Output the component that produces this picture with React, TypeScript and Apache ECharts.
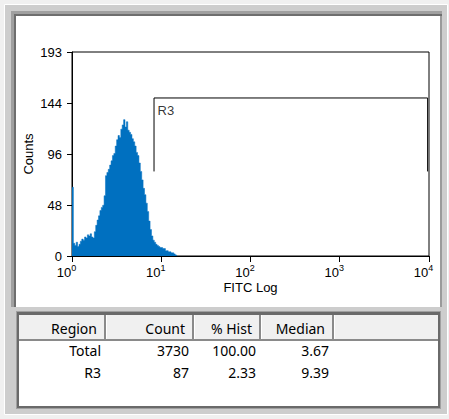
import React, { useEffect, useRef } from "react";
import * as echarts from "echarts";

// Histogram: counts per channel, 64 channels per decade starting at 10^0
const channelsPerDecade = 64;
const histCounts = [
  65, 12, 10, 13, 9, 11, 14, 16, 15, 18, 17, 20, 19, 21, 18, 17, 23, 29, 34, 38,
  43, 46, 48, 57, 76, 79, 82, 86, 90, 95, 97, 104, 110, 114, 112, 120, 124, 129, 122, 127,
  119, 117, 115, 111, 108, 104, 98, 95, 88, 80, 72, 64, 58, 50, 42, 33, 25, 19, 15, 13,
  11, 10, 9, 8, 8, 7, 7, 5, 5, 4, 4, 3, 3, 2, 1,
];

// Axis
const yTickLabels = [0, 48, 96, 144, 193];
const xMin = 1;
const xMax = 10000;

// R3 region marker
const gateName = "R3";
const gateLow = 8.3;
const gateHigh = 9650;
const gateTop = 149.5;
const gateBottom = 80;

// Stats table
const tableHeaders = ["Region", "Count", "% Hist", "Median"];
const regionNames = ["Total", "R3"];
const regionCounts = ["3730", "87"];
const regionPctHist = ["100.00", "2.33"];
const regionMedians = ["3.67", "9.39"];

export default function App() {
  const ref = useRef<HTMLDivElement>(null);

  useEffect(() => {
    document.body.style.margin = "0";
    if (!ref.current) return;
    const chart = echarts.init(ref.current, undefined, { renderer: "svg" });

    const histData: number[][] = histCounts.map((c, i) => [
      Math.pow(10, i / channelsPerDecade),
      c,
    ]);
    histData.push([Math.pow(10, histCounts.length / channelsPerDecade), 0]);

    const chartFont = "Liberation Sans, Arial, sans-serif";
    const tableFont = "14px 'Noto Sans', 'Open Sans', sans-serif";
    const textColor = "#000";

    const colSeps = [105, 193, 260, 333];
    const graphics: any[] = [];
    // window background & frames
    graphics.push(
      { type: "rect", z: -20, shape: { x: 0, y: 0, width: 449, height: 419 }, style: { fill: "#f0f0f0" } },
      { type: "rect", z: -19, shape: { x: 4.5, y: 4.5, width: 443, height: 410 }, style: { fill: "#cdcdcd", stroke: "#ffffff", lineWidth: 1 } },
      // chart panel
      { type: "rect", z: -18, shape: { x: 11, y: 11, width: 431, height: 296 }, style: { fill: "#a0a0a0" } },
      { type: "rect", z: -17, shape: { x: 14, y: 14, width: 428, height: 293 }, style: { fill: "#6e6e6e" } },
      { type: "rect", z: -16, shape: { x: 16, y: 16, width: 424, height: 291 }, style: { fill: "#ffffff" } },
      { type: "rect", z: -17, shape: { x: 440, y: 16, width: 2, height: 291 }, style: { fill: "#9a9a9a" } },
      // table panel
      { type: "rect", z: -18, shape: { x: 16, y: 311, width: 425, height: 98 }, style: { fill: "#a0a0a0" } },
      { type: "rect", z: -17, shape: { x: 17, y: 312, width: 423, height: 96 }, style: { fill: "#6a6a6a" } },
      { type: "rect", z: -16, shape: { x: 19, y: 315, width: 419, height: 24 }, style: { fill: "#f0f0f0" } },
      { type: "rect", z: -16, shape: { x: 19, y: 339, width: 419, height: 2 }, style: { fill: "#8a8a8a" } },
      { type: "rect", z: -16, shape: { x: 19, y: 341, width: 419, height: 65 }, style: { fill: "#ffffff" } }
    );
    colSeps.forEach((sx) => {
      graphics.push(
        { type: "rect", z: -15, shape: { x: sx - 1, y: 315, width: 2, height: 24 }, style: { fill: "#8a8a8a" } },
        { type: "rect", z: -15, shape: { x: sx + 1, y: 315, width: 1, height: 24 }, style: { fill: "#ffffff" } }
      );
    });
    const headerRight = colSeps.map((s) => s - 8);
    const dataRight = colSeps.map((s) => s - 4);
    tableHeaders.forEach((h, i) => {
      graphics.push({
        type: "text", z: 10, x: headerRight[i], y: 328,
        style: { text: h, font: tableFont, fill: textColor, textAlign: "right", textVerticalAlign: "middle" },
      });
    });
    const rows = regionNames.map((n, r) => [n, regionCounts[r], regionPctHist[r], regionMedians[r]]);
    rows.forEach((row, r) => {
      row.forEach((cell, c) => {
        graphics.push({
          type: "text", z: 10, x: dataRight[c], y: 350 + r * 22,
          style: { text: cell, font: tableFont, fill: textColor, textAlign: "right", textVerticalAlign: "middle" },
        });
      });
    });

    chart.setOption({
      animation: false,
      backgroundColor: "#f0f0f0",
      graphic: graphics,
      grid: {
        left: 72, top: 52, width: 357, height: 204,
        show: true, borderColor: "#000", borderWidth: 1, backgroundColor: "transparent",
        containLabel: false,
      },
      xAxis: {
        type: "log",
        logBase: 10,
        min: xMin,
        max: xMax,
        name: "FITC Log",
        nameLocation: "middle",
        nameGap: 25,
        nameMoveOverlap: false,
        nameTextStyle: { fontFamily: chartFont, fontSize: 13, color: textColor },
        axisLine: { lineStyle: { color: "#000", width: 1 } },
        axisTick: { show: true, length: 6, lineStyle: { color: "#000" } },
        minorTick: { show: false },
        splitLine: { show: false },
        axisLabel: {
          showMinLabel: true,
          showMaxLabel: true,
          margin: 7,
          padding: [0, 11, 0, 0],
          formatter: (v: number) => `{b|10}{s|${Math.round(Math.log10(v))}}`,
          rich: {
            b: { fontFamily: chartFont, fontSize: 13, color: textColor, lineHeight: 18, verticalAlign: "middle" },
            s: { fontFamily: chartFont, fontSize: 9, color: textColor, lineHeight: 9, verticalAlign: "top" },
          },
        },
      },
      yAxis: {
        type: "value",
        min: 0,
        max: 193,
        interval: 48.25,
        name: "Counts",
        nameLocation: "middle",
        nameRotate: 90,
        nameGap: 37,
        nameMoveOverlap: false,
        nameTextStyle: { fontFamily: chartFont, fontSize: 13, color: textColor },
        axisLine: { show: true, lineStyle: { color: "#000", width: 1 } },
        axisTick: { show: true, length: 5, lineStyle: { color: "#000" } },
        splitLine: { show: false },
        axisLabel: {
          margin: 10,
          fontFamily: chartFont,
          fontSize: 13,
          color: textColor,
          showMaxLabel: true,
          formatter: (v: number) => {
            const f = Math.floor(v + 1e-9);
            const match = yTickLabels.find((t) => t === f);
            return match !== undefined ? String(match) : String(f);
          },
        },
      },
      series: [
        {
          type: "line",
          data: histData,
          step: "end",
          symbol: "none",
          lineStyle: { color: "#0070c0", width: 0.5 },
          areaStyle: { color: "#0070c0", opacity: 1 },
          z: 2,
        },
        {
          type: "line",
          data: [
            [gateLow, gateBottom],
            [gateLow, gateTop],
            [gateHigh, gateTop],
            [gateHigh, gateBottom],
          ],
          symbol: "none",
          lineStyle: { color: "#000", width: 1 },
          z: 3,
        },
        {
          type: "scatter",
          data: [[gateLow, gateTop]],
          symbol: "rect",
          symbolSize: 1,
          itemStyle: { color: "rgba(0,0,0,0)" },
          label: {
            show: true,
            formatter: gateName,
            position: [4, 7],
            align: "left",
            verticalAlign: "top",
            fontFamily: chartFont,
            fontSize: 13,
            color: textColor,
          },
          z: 4,
        },
      ],
    });

    return () => chart.dispose();
  }, []);

  return <div ref={ref} style={{ width: 449, height: 419 }} />;
}
